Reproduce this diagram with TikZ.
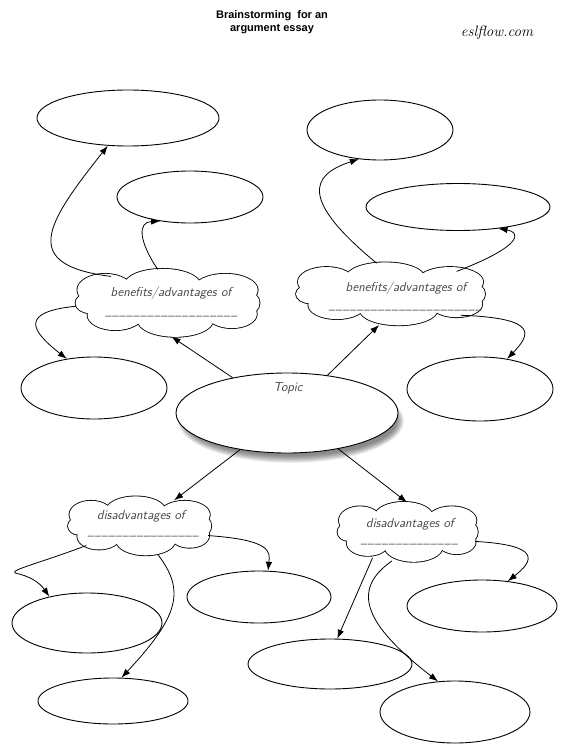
\documentclass[tikz,border=0pt]{standalone}
\usepackage{fontspec}
\newfontfamily\titlefont{Liberation Sans}
\usetikzlibrary{shapes.geometric,arrows.meta}
\def\lobes{0/0/0.85/0.65, -0.68/-0.39/0.30/0.48, -0.06/-0.54/0.41/0.48, 0.62/-0.39/0.35/0.48, -0.57/0.36/0.30/0.45, 0.08/0.51/0.41/0.50, 0.69/0.33/0.27/0.42, -0.85/0/0.15/0.30, 0.85/0/0.14/0.35}
\newcommand\drawcloud[4]{%
  \foreach \u/\v/\ru/\rv in \lobes {\draw[line width=1.7pt] ({#1+(\u)*#3},{#2+(\v)*#4}) ellipse ({\ru*#3} and {\rv*#4});}
  \foreach \u/\v/\ru/\rv in \lobes {\fill[white] ({#1+(\u)*#3},{#2+(\v)*#4}) ellipse ({\ru*#3} and {\rv*#4});}
}
\newcommand\us{\_\kern0.8pt}
\begin{document}
\begin{tikzpicture}[x=1pt,y=-1pt,
  box/.style={draw, ellipse, inner sep=0pt, line width=0.9pt, fill=white},
  rim/.style={ellipse, inner sep=0pt},
  arr/.style={line width=0.8pt, -{Latex[length=9pt,width=6.5pt]}},
  hand/.style={font=\sffamily\itshape\fontsize{13}{15}\selectfont, text=black!72, inner sep=0pt, anchor=base},
  dash line/.style={font=\sffamily\itshape\fontsize{9}{11}\selectfont, text=black!72, inner sep=0pt, anchor=base},
]
\useasboundingbox (0,0) rectangle (568,751);

% title
\node[font=\titlefont\bfseries\fontsize{11}{13}\selectfont, align=center] (title) at (272,22) {Brainstorming\ \ for an\\argument essay};
\node[font=\itshape\fontsize{15}{17}\selectfont] (site) at (497,33) {eslflow.com};

% ellipses
\node[box, minimum width=182pt, minimum height=56pt] (e1) at (128,118) {};
\node[box, minimum width=146pt, minimum height=52pt] (e2) at (190,197) {};
\node[box, minimum width=146pt, minimum height=60pt] (e3) at (380,130) {};
\node[box, minimum width=184pt, minimum height=47pt] (e4) at (458,207) {};
\node[box, minimum width=146pt, minimum height=62pt] (e5) at (94,388) {};
\node[box, minimum width=146pt, minimum height=64pt] (e6) at (480,389) {};
\node[box, minimum width=150pt, minimum height=60pt] (e8) at (87,623) {};
\node[box, minimum width=144pt, minimum height=52pt] (e9) at (259,597) {};
\node[box, minimum width=150pt, minimum height=46pt] (e10) at (113,701) {};
\node[box, minimum width=150pt, minimum height=52pt] (e11) at (482,606) {};
\node[box, minimum width=164pt, minimum height=50pt] (e12) at (330,664) {};
\node[box, minimum width=150pt, minimum height=62pt] (e13) at (455,712) {};

% topic with shadow
\foreach \k in {0,...,9} {
  \fill[black, opacity=0.06] (291,421) ellipse ({113-\k*0.8} and {42-\k*0.8});
}
\node[box, minimum width=222pt, minimum height=80pt] (e7) at (287,413) {};
\node[hand] (tt) at (288,391) {Topic};

% clouds
\drawcloud{168}{303}{92.5}{33.5}
\drawcloud{391}{294}{95}{31}
\drawcloud{140}{526}{72}{29}
\drawcloud{408}{532}{70.5}{29.5}
\node[rim, minimum width=185pt, minimum height=67pt] (cA) at (168,303) {};
\node[rim, minimum width=190pt, minimum height=62pt] (cB) at (391,294) {};
\node[rim, minimum width=144pt, minimum height=58pt] (cC) at (140,526) {};
\node[rim, minimum width=141pt, minimum height=59pt] (cD) at (408,532) {};

\node[hand] (tA1) at (171,296) {benefits/advantages of};
\node[dash line] (tA2) at (172,315) {\us\us\us\us\us\us\us\us\us\us\us\us\us\us\us\us\us\us\us};
\node[hand] (tB1) at (406,291) {benefits/advantages of};
\node[dash line] (tB2) at (406,309) {\us\us\us\us\us\us\us\us\us\us\us\us\us\us\us\us\us\us\us\us\us\us};
\node[hand] (tC1) at (141,519) {disadvantages of};
\node[dash line] (tC2) at (144,535) {\us\us\us\us\us\us\us\us\us\us\us\us\us\us\us\us};
\node[hand] (tD1) at (410,527) {disadvantages of};
\node[dash line] (tD2) at (410,543) {\us\us\us\us\us\us\us\us\us\us\us\us\us\us};

% connectors from topic
\draw[arr] (e7.147) -- (cA.276);
\draw[arr] (e7.43) -- (cB.249);
\draw[arr] (e7.218) -- (cC.37);
\draw[arr] (e7.325) -- (cD.92);

% cloud A
\draw[arr] (cA.155) .. controls (20,265) and (45,225) .. (e1.234);
\draw[arr] (cA.107) .. controls (138,240) and (138,222) .. (e2.219);
\draw[arr] (cA.182) .. controls (20,312) and (30,330) .. (e5.133);

% cloud B
\draw[arr] (cB.115) .. controls (300,200) and (310,175) .. (e3.234);
\draw[arr] (cB.19) .. controls (525,245) and (520,232) .. (e4.332);
\draw[arr] (cB.343) .. controls (540,318) and (530,335) .. (e6.48);

% cloud C
\draw[arr] (cC.200) .. controls (40,563) and (10,570) .. (15,573) .. controls (30,576) and (40,583) .. (e8.145);
\draw[arr] (cC.302) .. controls (185,590) and (180,615) .. (e10.70);
\draw[arr] (cC.352) .. controls (272,540) and (270,552) .. (e9.71);

% cloud D
\draw[arr] (cD.216) -- (e12.74);
\draw[arr] (cD.241) .. controls (350,590) and (365,625) .. (e13.119);
\draw[arr] (cD.352) .. controls (540,545) and (535,560) .. (e11.44);
\end{tikzpicture}
\end{document}
